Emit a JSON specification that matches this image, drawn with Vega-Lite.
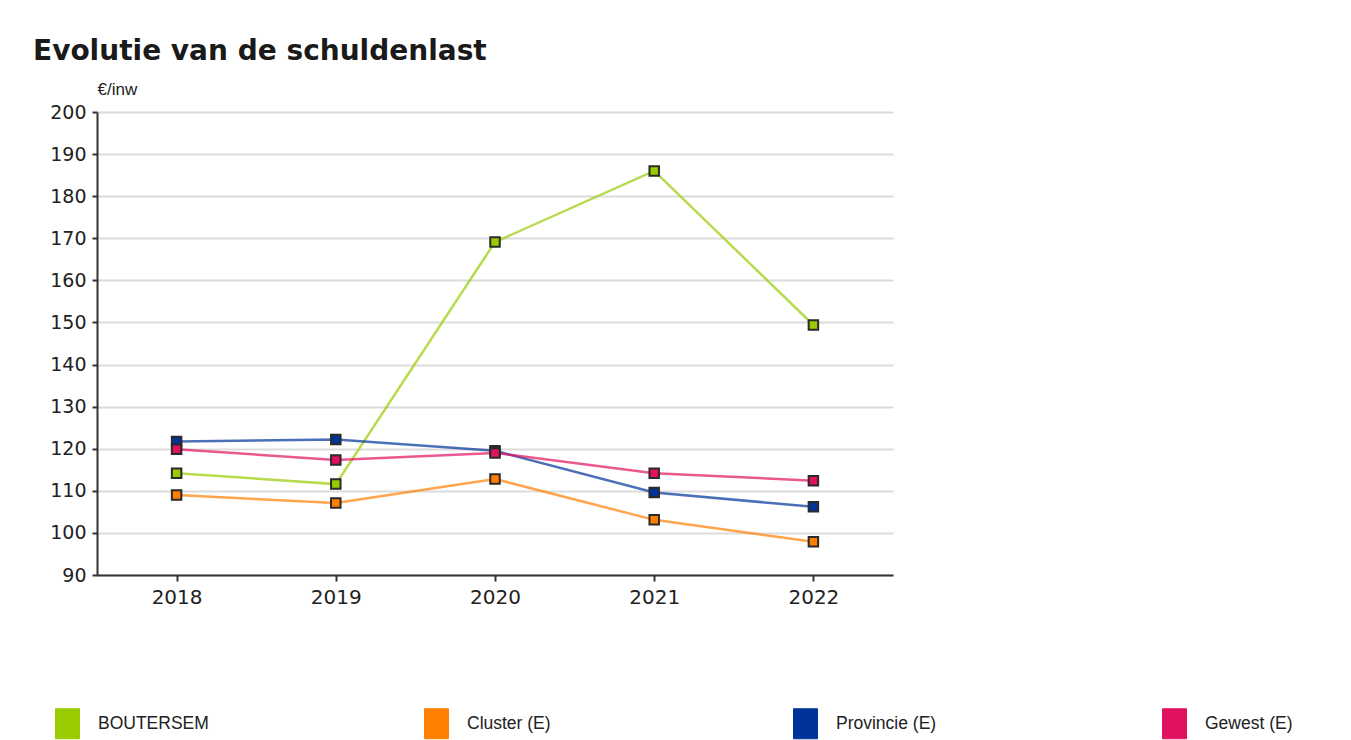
{
  "$schema": "https://vega.github.io/schema/vega-lite/v6.json",
  "width": 796,
  "height": 463,
  "autosize": {"type": "none"},
  "padding": {"left": 97, "top": 112, "right": 458, "bottom": 165},
  "background": "white",
  "config": {"view": {"stroke": null}},
  "title": {
    "text": "Evolutie van de schuldenlast",
    "anchor": "start",
    "frame": "group",
    "dx": -64,
    "offset": 14,
    "font": "DejaVu Sans",
    "fontSize": 28,
    "fontWeight": "bold",
    "color": "#1a1a1a"
  },
  "data": {
    "values": [
      {"year": "2018", "series": "BOUTERSEM", "value": 114.2},
      {"year": "2019", "series": "BOUTERSEM", "value": 111.6},
      {"year": "2020", "series": "BOUTERSEM", "value": 169.1},
      {"year": "2021", "series": "BOUTERSEM", "value": 186.0},
      {"year": "2022", "series": "BOUTERSEM", "value": 149.4},
      {"year": "2018", "series": "Cluster (E)", "value": 109.0},
      {"year": "2019", "series": "Cluster (E)", "value": 107.1},
      {"year": "2020", "series": "Cluster (E)", "value": 112.8},
      {"year": "2021", "series": "Cluster (E)", "value": 103.1},
      {"year": "2022", "series": "Cluster (E)", "value": 97.9},
      {"year": "2018", "series": "Provincie (E)", "value": 121.7},
      {"year": "2019", "series": "Provincie (E)", "value": 122.2},
      {"year": "2020", "series": "Provincie (E)", "value": 119.5},
      {"year": "2021", "series": "Provincie (E)", "value": 109.6},
      {"year": "2022", "series": "Provincie (E)", "value": 106.2},
      {"year": "2018", "series": "Gewest (E)", "value": 119.9},
      {"year": "2019", "series": "Gewest (E)", "value": 117.3},
      {"year": "2020", "series": "Gewest (E)", "value": 119.0},
      {"year": "2021", "series": "Gewest (E)", "value": 114.2},
      {"year": "2022", "series": "Gewest (E)", "value": 112.4}
    ]
  },
  "encoding": {
    "x": {
      "field": "year",
      "type": "ordinal",
      "sort": null,
      "scale": {"type": "point", "padding": 0.5},
      "axis": {
        "title": null,
        "labelAngle": 0,
        "labelFont": "DejaVu Sans",
        "labelFontSize": 20,
        "labelColor": "#222",
        "labelPadding": 6,
        "tickSize": 6,
        "tickColor": "#333",
        "tickWidth": 2,
        "domainColor": "#333",
        "domainWidth": 2,
        "grid": false
      }
    },
    "y": {
      "field": "value",
      "type": "quantitative",
      "scale": {"domain": [90, 200], "nice": false, "zero": false},
      "axis": {
        "values": [90, 100, 110, 120, 130, 140, 150, 160, 170, 180, 190, 200],
        "title": "€/inw",
        "titleAngle": 0,
        "titleX": 0,
        "titleY": -23,
        "titleAlign": "left",
        "titleBaseline": "middle",
        "titleFont": "Liberation Sans",
        "titleFontSize": 17,
        "titleFontWeight": "normal",
        "titleColor": "#222",
        "labelFont": "DejaVu Sans",
        "labelFontSize": 19,
        "labelColor": "#222",
        "labelPadding": 6,
        "tickSize": 5,
        "tickColor": "#333",
        "tickWidth": 2,
        "domainColor": "#333",
        "domainWidth": 2,
        "grid": true,
        "gridColor": "#dcdcdc",
        "gridWidth": 2
      }
    },
    "color": {
      "field": "series",
      "type": "nominal",
      "scale": {
        "domain": ["BOUTERSEM", "Cluster (E)", "Provincie (E)", "Gewest (E)"],
        "range": ["#99cc00", "#ff7f00", "#003399", "#e0115f"]
      },
      "legend": {
        "title": null,
        "orient": "none",
        "legendX": -45,
        "legendY": 596,
        "direction": "horizontal",
        "columns": 4,
        "gridAlign": "all",
        "columnPadding": 212,
        "padding": 0,
        "symbolType": "M-0.8,-1H0.8V1H-0.8Z",
        "symbolSize": 900,
        "symbolOpacity": 1,
        "symbolStrokeColor": "#333",
        "symbolStrokeWidth": 1,
        "labelOffset": 15,
        "labelFont": "Liberation Sans",
        "labelFontSize": 17.5,
        "labelColor": "#222",
        "labelLimit": 300,
        "encode": {
          "symbols": {
            "update": {
              "fill": {"scale": "color", "field": "value"},
              "stroke": {"value": "#333"},
              "strokeWidth": {"value": 1},
              "opacity": {"value": 1},
              "fillOpacity": {"value": 1},
              "strokeOpacity": {"value": 1}
            }
          }
        }
      }
    }
  },
  "layer": [
    {
      "mark": {"type": "line", "strokeWidth": 2.5, "opacity": 0.7},
      "encoding": {"detail": {"field": "series"}}
    },
    {
      "mark": {"type": "point", "shape": "square", "filled": true, "size": 90, "stroke": "#2a2a2a", "strokeWidth": 2, "opacity": 1}
    }
  ]
}
